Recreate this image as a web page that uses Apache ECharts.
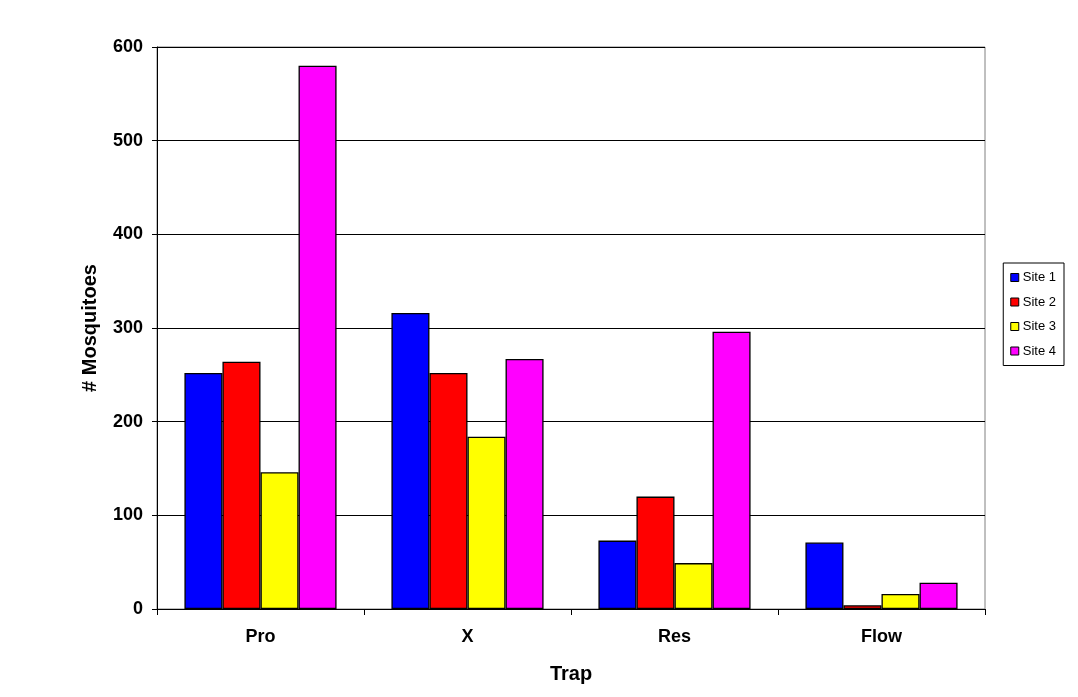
<!DOCTYPE html>
<html>
<head>
<meta charset="utf-8">
<script src="https://cdn.jsdelivr.net/npm/echarts@6/dist/echarts.min.js"></script>
<style>
  html, body { margin: 0; padding: 0; background: #fff; }
  #chart { width: 1078px; height: 697px; }
</style>
</head>
<body>
<div id="chart"></div>
<script>
// Mosquito counts per trap type at each site
const traps = ['Pro', 'X', 'Res', 'Flow'];
const siteNames = ['Site 1', 'Site 2', 'Site 3', 'Site 4'];
const site1 = [252, 316, 73, 71];
const site2 = [264, 252, 120, 4];
const site3 = [146, 184, 49, 16];
const site4 = [580, 267, 296, 28];
const yTicks = [0, 100, 200, 300, 400, 500, 600];

const siteValues = [site1, site2, site3, site4];
const siteColors = ['#0000ff', '#ff0000', '#ffff00', '#ff00ff'];
const font = 'Liberation Sans, Arial, sans-serif';

const chart = echarts.init(document.getElementById('chart'));
chart.setOption({
  animation: false,
  backgroundColor: '#ffffff',
  grid: { left: 157, right: 93, top: 47, bottom: 88, containLabel: false,
          show: true, borderColor: '#808080', borderWidth: 1 },
  legend: {
    orient: 'vertical',
    right: 14,
    top: 263,
    itemWidth: 8,
    itemHeight: 8,
    itemGap: 11.5,
    padding: [8, 8, 8, 7],
    borderColor: '#000',
    borderWidth: 1,
    icon: 'rect',
    data: siteNames,
    textStyle: { fontFamily: font, fontSize: 13, color: '#000', padding: [0, 0, 0, -1] },
    itemStyle: { borderColor: '#000', borderWidth: 1 }
  },
  xAxis: {
    type: 'category',
    data: traps,
    name: 'Trap',
    nameLocation: 'middle',
    nameGap: 55,
    nameTextStyle: { fontFamily: font, fontSize: 20, fontWeight: 'bold', color: '#000' },
    axisLine: { lineStyle: { color: '#000', width: 1 } },
    axisTick: { show: true, length: 6, lineStyle: { color: '#000' } },
    axisLabel: { fontFamily: font, fontSize: 18, fontWeight: 'bold', color: '#000', margin: 19 },
    splitLine: { show: false }
  },
  yAxis: {
    type: 'value',
    min: yTicks[0],
    max: yTicks[yTicks.length - 1],
    interval: 100,
    name: '# Mosquitoes',
    nameLocation: 'middle',
    nameGap: 57,
    nameTextStyle: { fontFamily: font, fontSize: 20, fontWeight: 'bold', color: '#000' },
    axisLine: { show: true, lineStyle: { color: '#000', width: 1 } },
    axisTick: { show: true, length: 5, lineStyle: { color: '#000' } },
    axisLabel: { fontFamily: font, fontSize: 18, fontWeight: 'bold', color: '#000', margin: 14 },
    splitLine: { show: true, lineStyle: { color: '#000', width: 1 } }
  },
  series: siteNames.map((name, i) => ({
    name: name,
    type: 'bar',
    data: siteValues[i],
    barGap: '0%',
    barCategoryGap: '26.5%',
    itemStyle: { color: siteColors[i], borderColor: '#000', borderWidth: 1.3 }
  }))
});
</script>
</body>
</html>
